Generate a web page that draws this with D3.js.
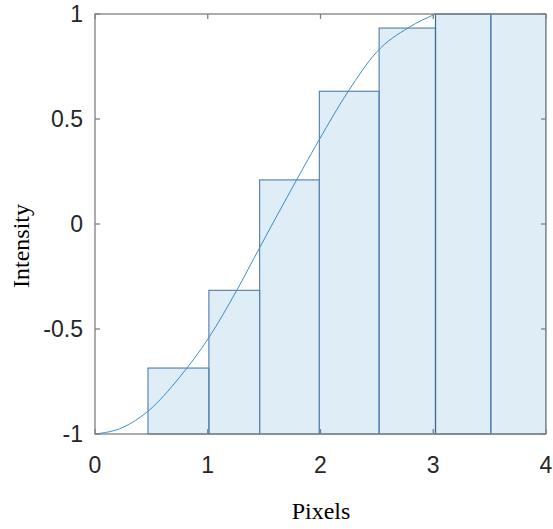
<!DOCTYPE html>
<html>
<head>
<meta charset="utf-8">
<script src="https://cdn.jsdelivr.net/npm/d3@7"></script>
<style>
  html, body { margin: 0; padding: 0; background: #fff; }
  svg { display: block; }
</style>
</head>
<body>
<svg id="chart" width="553" height="529"></svg>
<script>
// Pixel bins: left/right edges and the intensity sampled in each bin
const binEdges  = [0.47, 1.01, 1.46, 1.99, 2.52, 3.02, 3.51, 4.0];
const binValues = [-0.686, -0.316, 0.21, 0.632, 0.933, 1, 1];

// Continuous intensity profile
const curveX = [0, 0.25, 0.473, 0.75, 1.011, 1.257, 1.457, 1.788, 1.987, 2.246, 2.5, 2.78, 3.02];
const curveY = [-1, -0.968, -0.89, -0.73, -0.54, -0.316, -0.116, 0.21, 0.40, 0.632, 0.82, 0.935, 1.0];

// Axis ticks
const xTicks = [0, 1, 2, 3, 4];
const yTicks = [-1, -0.5, 0, 0.5, 1];
const xTickLabels = ["0", "1", "2", "3", "4"];
const yTickLabels = ["-1", "-0.5", "0", "0.5", "1"];

const mLeft = 95, mRight = 546, mTop = 14, mBottom = 434;
const svg = d3.select("#chart");

const x = d3.scaleLinear().domain([0, 4]).range([mLeft, mRight]);
const y = d3.scaleLinear().domain([-1, 1]).range([mBottom, mTop]);

svg.append("defs").append("clipPath").attr("id", "plot-clip")
  .append("rect").attr("x", mLeft).attr("y", mTop - 1)
  .attr("width", mRight - mLeft).attr("height", mBottom - mTop + 2);

const plot = svg.append("g").attr("clip-path", "url(#plot-clip)");

// Profile curve (drawn beneath the translucent bars)
const pts = curveX.map((v, i) => [v, curveY[i]]);
plot.append("path")
  .datum(pts)
  .attr("fill", "none")
  .attr("stroke", "#3d91d3")
  .attr("stroke-width", 1)
  .attr("d", d3.line().x(d => x(d[0])).y(d => y(d[1])).curve(d3.curveMonotoneX));

// Bins
const bins = binValues.map((v, i) => ({ x0: binEdges[i], x1: binEdges[i + 1], v, i }));
plot.selectAll("rect.bin").data(bins).join("rect")
  .attr("class", "bin")
  .attr("x", d => x(d.x0))
  .attr("width", d => x(d.x1) - x(d.x0))
  .attr("y", d => y(d.v))
  .attr("height", d => y(-1) - y(d.v))
  .attr("fill", "#0072bd")
  .attr("fill-opacity", 0.125)
  .attr("stroke", d => d.i === 5 ? "#3a6a9e" : "#5a86b4")
  .attr("stroke-width", 1.2);

// Axes box with inward ticks on every side
const axisColor = "#808080";
const ax = svg.append("g");
ax.append("rect")
  .attr("x", mLeft).attr("y", mTop)
  .attr("width", mRight - mLeft).attr("height", mBottom - mTop)
  .attr("fill", "none").attr("stroke", axisColor).attr("stroke-width", 1.3);

const tl = 5;
xTicks.forEach(t => {
  ax.append("line").attr("x1", x(t)).attr("x2", x(t)).attr("y1", mBottom).attr("y2", mBottom - tl)
    .attr("stroke", axisColor).attr("stroke-width", 1.3);
  ax.append("line").attr("x1", x(t)).attr("x2", x(t)).attr("y1", mTop).attr("y2", mTop + tl)
    .attr("stroke", axisColor).attr("stroke-width", 1.3);
});
yTicks.forEach(t => {
  ax.append("line").attr("x1", mLeft).attr("x2", mLeft + tl).attr("y1", y(t)).attr("y2", y(t))
    .attr("stroke", axisColor).attr("stroke-width", 1.3);
  ax.append("line").attr("x1", mRight).attr("x2", mRight - tl).attr("y1", y(t)).attr("y2", y(t))
    .attr("stroke", axisColor).attr("stroke-width", 1.3);
});

// Tick labels
const tickFont = "'Liberation Sans', Arial, sans-serif";
svg.append("g").selectAll("text").data(xTicks).join("text")
  .attr("x", d => x(d)).attr("y", 473)
  .attr("text-anchor", "middle")
  .attr("font-family", tickFont).attr("font-size", 23).attr("fill", "#262626")
  .text((d, i) => xTickLabels[i]);

svg.append("g").selectAll("text").data(yTicks).join("text")
  .attr("x", 83).attr("y", d => y(d))
  .attr("dy", "0.36em")
  .attr("text-anchor", "end")
  .attr("font-family", tickFont).attr("font-size", 23).attr("fill", "#262626")
  .text((d, i) => yTickLabels[i]);

// Axis titles
const titleFont = "'Liberation Serif', 'Times New Roman', serif";
svg.append("text")
  .attr("x", 321).attr("y", 519)
  .attr("text-anchor", "middle")
  .attr("font-family", titleFont).attr("font-size", 24).attr("fill", "#000")
  .text("Pixels");

svg.append("text")
  .attr("transform", "translate(28.5,246) rotate(-90)")
  .attr("text-anchor", "middle")
  .attr("font-family", titleFont).attr("font-size", 24).attr("fill", "#000")
  .text("Intensity");
</script>
</body>
</html>
